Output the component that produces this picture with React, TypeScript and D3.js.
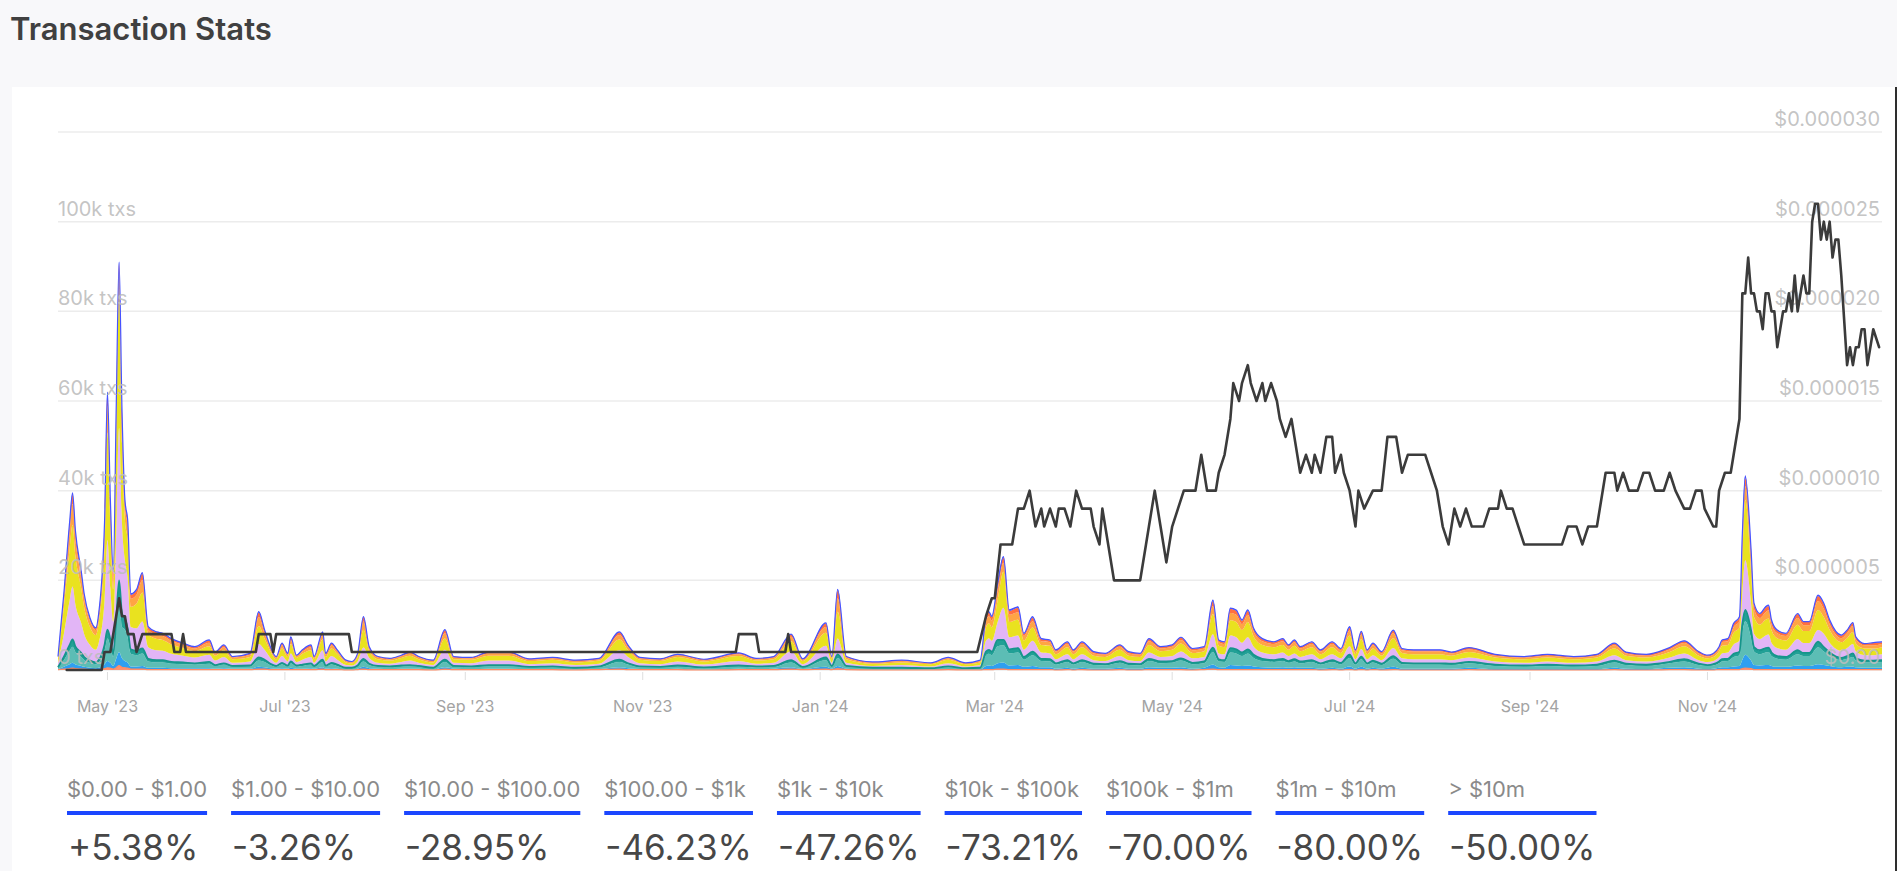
import React, { useEffect, useRef } from "react";
import * as d3 from "d3";

const WIDTH = 1897;
const HEIGHT = 871;
const FONT = "Inter, 'Noto Sans', 'DejaVu Sans', sans-serif";

// Sample dates of the stacked transaction areas
const dates: string[] = [
  "2023-04-14","2023-04-16","2023-04-18","2023-04-19","2023-04-20","2023-04-22","2023-04-23","2023-04-25","2023-04-27","2023-04-28",
  "2023-04-30","2023-05-01","2023-05-02","2023-05-03","2023-05-04","2023-05-05","2023-05-06","2023-05-07","2023-05-08","2023-05-09",
  "2023-05-11","2023-05-13","2023-05-15","2023-05-18","2023-05-20","2023-05-23","2023-05-27","2023-05-31","2023-06-05","2023-06-07",
  "2023-06-10","2023-06-13","2023-06-19","2023-06-22","2023-06-24","2023-06-26","2023-06-28","2023-06-30","2023-07-02","2023-07-03",
  "2023-07-05","2023-07-07","2023-07-10","2023-07-11","2023-07-14","2023-07-15","2023-07-17","2023-07-19","2023-07-22","2023-07-24",
  "2023-07-26","2023-07-28","2023-07-30","2023-08-02","2023-08-06","2023-08-10","2023-08-13","2023-08-16","2023-08-21","2023-08-25",
  "2023-08-28","2023-09-03","2023-09-09","2023-09-16","2023-09-23","2023-10-01","2023-10-09","2023-10-17","2023-10-24","2023-10-27",
  "2023-10-31","2023-11-07","2023-11-13","2023-11-22","2023-12-04","2023-12-10","2023-12-16","2023-12-22","2023-12-26","2024-01-03",
  "2024-01-05","2024-01-07","2024-01-10","2024-01-19","2024-01-29","2024-02-08","2024-02-14","2024-02-20","2024-02-25","2024-02-27",
  "2024-02-28","2024-02-29","2024-03-02","2024-03-04","2024-03-06","2024-03-09","2024-03-11","2024-03-14","2024-03-17","2024-03-20",
  "2024-03-22","2024-03-26","2024-03-28","2024-03-31","2024-04-04","2024-04-08","2024-04-13","2024-04-16","2024-04-20","2024-04-23",
  "2024-04-27","2024-05-01","2024-05-04","2024-05-08","2024-05-12","2024-05-15","2024-05-17","2024-05-19","2024-05-21","2024-05-23",
  "2024-05-25","2024-05-27","2024-05-29","2024-06-01","2024-06-05","2024-06-08","2024-06-10","2024-06-12","2024-06-14","2024-06-18",
  "2024-06-21","2024-06-25","2024-06-28","2024-07-01","2024-07-03","2024-07-05","2024-07-07","2024-07-09","2024-07-12","2024-07-16",
  "2024-07-19","2024-07-23","2024-07-28","2024-08-01","2024-08-05","2024-08-11","2024-08-20","2024-08-30","2024-09-07","2024-09-16",
  "2024-09-24","2024-09-30","2024-10-04","2024-10-11","2024-10-19","2024-10-24","2024-10-29","2024-11-01","2024-11-03","2024-11-05",
  "2024-11-06","2024-11-08","2024-11-10","2024-11-12","2024-11-13","2024-11-14","2024-11-16","2024-11-17","2024-11-19","2024-11-21",
  "2024-11-22","2024-11-23","2024-11-25","2024-11-28","2024-12-02","2024-12-04","2024-12-06","2024-12-09","2024-12-11","2024-12-13",
  "2024-12-17","2024-12-19","2024-12-21","2024-12-22","2024-12-25","2024-12-28","2024-12-31"
];

// Daily transactions per value bucket, in hundreds of txs
const bucket0 = [
  1,2,3,4,3,2,2,1,1,1, 3,5,4,2,5,10,6,5,4,2, 2,2,1,1,1,1,1,1,1,1, 1,1,1,2,2,1,1,1,1,1,
  1,1,1,1,2,1,1,1,0,0, 1,2,1,1,1,1,1,1,0,2, 1,1,1,1,1,1,0,1,2,1, 1,1,1,0,1,1,1,2,1,2,
  1,3,1,0,0,0,1,0,0,1, 1,1,2,2,1,1,1,1,1,1, 0,1,0,1,0,0,1,0,0,1, 1,1,1,0,1,2,1,1,1,1,
  1,1,1,1,1,1,1,1,1,1, 0,1,0,1,0,1,0,1,0,1, 0,0,0,0,0,1,0,0,0,0, 0,1,0,0,1,1,0,0,0,1,
  1,1,1,1,3,4,3,1,1,1, 1,1,1,1,1,1,1,1,1,1, 1,1,1,1,1,1,1
];
const bucket1 = [
  1,5,10,12,9,7,5,4,3,4, 10,15,12,7,20,30,20,15,12,6, 6,7,4,4,4,3,3,3,3,2, 3,2,2,5,4,3,2,3,2,4,
  2,2,3,2,4,2,3,2,1,1, 2,5,3,2,1,2,2,2,1,4, 2,1,2,2,1,1,1,1,4,3, 1,1,2,1,2,1,2,4,1,5,
  2,6,2,1,1,1,1,1,1,8, 9,8,13,15,9,10,6,8,5,5, 3,4,3,4,3,3,4,3,3,5, 4,4,5,3,4,10,5,4,10,9,
  8,9,7,5,4,5,4,5,4,4, 3,4,3,7,3,6,3,4,3,6, 3,3,3,3,3,4,2,2,2,2, 2,4,3,2,4,5,3,2,3,4,
  5,5,7,8,20,30,18,10,9,10, 10,8,6,6,9,8,8,12,10,8, 5,6,7,5,4,4,4
];
const bucket2 = [
  3,15,30,36,28,20,15,11,9,12, 30,50,36,20,60,120,70,70,55,28, 25,28,14,12,12,10,9,8,10,6, 8,4,5,14,12,7,4,8,5,10,
  5,6,8,4,12,5,8,6,3,3, 5,12,7,4,4,5,6,4,3,12, 4,4,6,6,4,4,3,4,12,8, 4,4,5,3,5,4,4,11,4,15,
  4,18,4,3,3,2,4,2,3,24, 26,24,38,38,27,28,16,24,14,13, 9,13,9,13,8,7,11,8,7,14, 10,11,15,10,10,28,13,13,28,27,
  22,27,19,14,13,14,11,13,10,13, 9,13,10,19,9,17,9,12,8,18, 10,9,9,9,8,10,7,6,7,6, 7,12,8,7,10,13,8,7,7,10,
  13,14,21,24,60,75,50,30,25,28, 29,22,18,16,25,22,22,38,30,22, 16,18,21,15,12,12,13
];
const bucket3 = [
  1,7,13,16,12,9,7,5,4,5, 13,20,16,9,25,40,30,25,20,10, 10,11,6,5,5,4,4,3,4,2, 3,2,2,7,5,3,2,4,2,4,
  2,3,3,2,5,2,4,3,1,1, 2,6,3,2,2,2,2,2,1,5, 2,2,2,2,1,2,1,2,5,3, 2,1,2,2,2,2,2,5,1,6,
  2,8,2,1,1,1,2,1,1,8, 9,8,14,12,9,10,6,8,5,5, 3,4,3,4,3,3,4,3,3,5, 4,4,5,3,4,10,5,4,10,9,
  8,9,7,5,4,5,4,5,4,4, 3,4,3,7,3,6,3,4,3,6, 3,3,3,3,3,3,3,2,3,2, 3,4,3,3,3,5,3,2,3,4,
  5,5,7,8,20,25,17,10,9,10, 10,8,6,6,9,7,7,12,10,8, 5,6,8,5,4,4,4
];
const bucket4 = [
  9,51,99,118,93,66,51,35,28,38, 99,200,114,70,190,340,200,130,110,50, 50,60,26,22,21,18,15,13,16,10, 14,7,9,30,22,13,7,15,9,18,
  8,11,14,7,21,9,15,11,6,5, 9,25,13,7,6,8,10,7,6,22, 7,7,10,10,6,7,6,6,21,14, 7,6,9,6,10,6,7,20,6,26,
  7,35,7,4,6,4,7,4,6,24, 26,24,40,72,27,28,16,24,14,13, 9,13,9,13,8,7,11,8,7,14, 10,11,15,10,10,30,13,13,28,27,
  22,27,18,14,13,14,11,13,10,13, 9,13,10,19,9,17,9,12,8,18, 10,9,9,9,8,10,7,6,7,6, 7,12,8,7,10,13,8,7,7,10,
  13,14,21,24,70,111,60,30,25,28, 29,22,18,16,25,22,22,26,30,22, 16,18,21,15,12,12,13
];
const bucket5 = [
  10,60,115,138,109,77,60,40,33,44, 115,240,133,72,200,310,180,90,85,45, 55,65,28,25,24,21,17,14,19,11, 15,8,10,40,25,15,8,17,10,21,
  9,13,15,8,24,10,17,13,6,5, 10,40,15,8,7,9,11,8,6,25, 8,8,11,11,7,8,6,7,24,15, 8,7,10,7,11,7,8,22,7,29,
  8,60,8,5,6,5,8,5,6,30, 33,30,48,80,34,35,21,30,17,17, 11,16,11,16,10,9,14,10,9,17, 13,14,18,12,13,45,17,16,34,34,
  28,34,23,17,16,17,14,17,13,16, 11,16,12,24,11,22,11,15,10,22, 12,11,11,11,10,12,9,8,9,8, 9,15,10,9,12,16,10,8,9,13,
  17,17,26,30,80,135,70,37,32,35, 36,28,22,21,32,27,27,45,37,28, 19,22,27,18,15,15,16
];
const bucket6 = [
  3,20,40,47,37,26,20,14,11,15, 40,60,45,25,55,35,45,30,30,18, 20,28,11,10,9,8,7,6,8,5, 7,4,5,20,12,6,4,7,5,9,
  4,5,7,4,10,5,7,5,3,2, 5,18,6,4,3,4,5,4,3,12, 4,3,5,5,3,3,3,3,10,7, 3,3,4,3,4,3,4,10,3,13,
  4,30,4,2,3,2,3,2,3,14, 16,15,23,20,16,17,10,14,8,8, 6,7,6,7,5,5,7,5,5,8, 6,7,8,6,6,18,8,7,16,16,
  13,16,11,8,7,8,7,8,6,7, 6,7,6,11,6,10,6,7,5,11, 6,6,6,6,5,6,4,4,4,4, 4,7,5,4,6,7,5,4,5,6,
  8,8,13,14,32,30,30,18,15,17, 18,13,11,10,15,13,13,20,18,13, 9,11,13,9,7,7,7
];
const bucket7 = [
  2,8,17,20,16,11,8,5,4,7, 17,25,17,13,22,20,25,12,12,9, 10,14,6,5,5,4,3,3,5,2, 4,2,3,10,7,4,2,4,3,6,
  2,3,4,2,6,3,4,3,2,2, 3,10,4,2,2,2,3,2,2,7, 2,2,3,3,2,2,2,2,6,4, 2,2,2,2,3,2,2,5,2,8,
  2,18,2,2,2,1,2,1,2,8, 9,8,13,12,9,10,5,8,5,4, 3,4,3,4,3,3,4,3,3,5, 4,4,5,3,4,11,4,4,9,9,
  8,9,6,5,4,5,4,4,4,4, 3,4,3,6,3,6,3,4,3,6, 3,3,3,3,3,4,3,2,3,2, 3,4,3,3,4,4,3,3,3,4,
  4,5,7,8,17,18,17,11,9,10, 10,8,6,5,9,7,7,11,11,8, 6,6,7,5,4,5,4
];
const bucket8 = [
  0,2,3,4,3,2,2,1,1,1, 3,5,3,2,3,5,4,3,2,2, 2,2,1,1,1,1,1,1,1,1, 1,0,0,2,1,0,0,1,0,1,
  0,1,1,0,1,0,1,1,0,0, 0,1,0,0,0,0,0,0,0,1, 0,0,0,0,0,0,0,0,1,0, 0,0,0,0,0,0,0,1,0,1,
  0,2,0,0,0,0,0,0,0,2, 1,2,2,2,2,2,1,2,1,1, 1,1,1,1,1,0,0,1,0,1, 0,0,1,1,0,2,1,1,2,2,
  2,2,1,1,1,1,0,1,0,1, 1,1,1,3,1,1,1,1,1,1, 1,1,1,1,0,0,0,0,0,0, 0,1,0,0,0,1,1,0,0,0,
  1,1,1,2,3,5,3,2,1,2, 2,2,1,1,1,1,1,2,2,2, 1,1,1,1,0,1,1
];
const bucketSeries = [bucket0, bucket1, bucket2, bucket3, bucket4, bucket5, bucket6, bucket7, bucket8];

const bucketLabels = [
  "$0.00 - $1.00", "$1.00 - $10.00", "$10.00 - $100.00", "$100.00 - $1k", "$1k - $10k",
  "$10k - $100k", "$100k - $1m", "$1m - $10m", "> $10m"
];
const bucketChanges = ["+5.38%", "-3.26%", "-28.95%", "-46.23%", "-47.26%", "-73.21%", "-70.00%", "-80.00%", "-50.00%"];
const bucketColors = ["#ff9270", "#2f9ff0", "#5cbdb5", "#22a096", "#e2b5f6", "#e9e21f", "#ffa444", "#ff7040", "#3a4cff"];
const bucketEdgeColors = ["#ff8a63", null, null, "#16958b", null, null, null, null, "#4652ff"];

// Token price, in millionths of a dollar
const priceDates: string[] = [
  "2023-04-17","2023-04-29","2023-04-30","2023-05-02","2023-05-05","2023-05-06","2023-05-07","2023-05-08","2023-05-10","2023-05-11",
  "2023-05-13","2023-05-23","2023-05-24","2023-05-26","2023-05-27","2023-05-28","2023-06-21","2023-06-22","2023-06-26","2023-06-27",
  "2023-06-28","2023-07-23","2023-07-24","2023-12-03","2023-12-04","2023-12-10","2023-12-11","2023-12-20","2023-12-21","2023-12-22",
  "2024-02-24","2024-02-27","2024-02-29","2024-03-01","2024-03-03","2024-03-07","2024-03-09","2024-03-11","2024-03-13","2024-03-15",
  "2024-03-17","2024-03-18","2024-03-20","2024-03-22","2024-03-23","2024-03-25","2024-03-27","2024-03-29","2024-03-31","2024-04-03",
  "2024-04-04","2024-04-06","2024-04-07","2024-04-09","2024-04-11","2024-04-20","2024-04-22","2024-04-23","2024-04-25","2024-04-27",
  "2024-04-29","2024-05-01","2024-05-03","2024-05-05","2024-05-07","2024-05-09","2024-05-11","2024-05-13","2024-05-16","2024-05-17",
  "2024-05-19","2024-05-21","2024-05-22","2024-05-24","2024-05-25","2024-05-27","2024-05-28","2024-05-30","2024-06-01","2024-06-02",
  "2024-06-04","2024-06-06","2024-06-07","2024-06-09","2024-06-11","2024-06-12","2024-06-14","2024-06-16","2024-06-18","2024-06-19",
  "2024-06-21","2024-06-23","2024-06-25","2024-06-26","2024-06-28","2024-06-29","2024-07-01","2024-07-03","2024-07-04","2024-07-06",
  "2024-07-09","2024-07-12","2024-07-14","2024-07-17","2024-07-19","2024-07-21","2024-07-27","2024-07-29","2024-07-31","2024-08-02",
  "2024-08-04","2024-08-06","2024-08-08","2024-08-10","2024-08-12","2024-08-16","2024-08-18","2024-08-21","2024-08-22","2024-08-24",
  "2024-08-26","2024-08-28","2024-08-30","2024-09-12","2024-09-14","2024-09-17","2024-09-19","2024-09-21","2024-09-24","2024-09-26",
  "2024-09-27","2024-09-30","2024-10-01","2024-10-03","2024-10-05","2024-10-08","2024-10-10","2024-10-12","2024-10-14","2024-10-17",
  "2024-10-19","2024-10-21","2024-10-24","2024-10-26","2024-10-28","2024-10-30","2024-10-31","2024-11-03","2024-11-04","2024-11-05",
  "2024-11-07","2024-11-09","2024-11-10","2024-11-12","2024-11-13","2024-11-14","2024-11-15","2024-11-16","2024-11-17","2024-11-18",
  "2024-11-19","2024-11-20","2024-11-21","2024-11-22","2024-11-23","2024-11-24","2024-11-25","2024-11-27","2024-11-28","2024-11-29",
  "2024-11-30","2024-12-01","2024-12-02","2024-12-04","2024-12-05","2024-12-06","2024-12-07","2024-12-08","2024-12-09","2024-12-10",
  "2024-12-11","2024-12-12","2024-12-13","2024-12-14","2024-12-15","2024-12-16","2024-12-17","2024-12-19","2024-12-20","2024-12-21",
  "2024-12-22","2024-12-23","2024-12-24","2024-12-25","2024-12-26","2024-12-28","2024-12-30"
];
const priceMicroUsd = [
  0,0,1,1,4,3,3,2,2,1,
  2,2,1,1,2,1,1,2,2,1,
  2,2,1,1,2,2,1,1,2,1,
  1,3,4,4,7,7,9,9,10,8,
  9,8,9,8,9,9,8,10,9,9,
  8,7,9,7,5,5,7,8,10,8,
  6,8,9,10,10,10,12,10,10,11,
  12,14,16,15,16,17,16,15,16,15,
  16,15,14,13,14,13,11,12,11,12,
  11,13,13,11,12,11,10,8,10,9,
  10,10,13,13,11,12,12,11,10,8,
  7,9,8,9,8,8,9,9,10,9,
  9,8,7,7,8,8,7,8,8,10,
  11,11,10,11,10,10,11,11,10,10,
  11,10,9,9,10,10,9,8,8,10,
  11,11,12,14,21,21,23,21,21,20,
  20,19,21,21,20,20,18,20,20,21,
  20,22,20,22,21,21,25,26,26,24,
  25,24,25,23,24,24,22,17,18,17,
  18,18,19,19,17,19,18
];

const txGridValues = [0, 20000, 40000, 60000, 80000, 100000, 120000];
const txTickValues = [0, 20000, 40000, 60000, 80000, 100000];
const txTickLabels = ["0 txs", "20k txs", "40k txs", "60k txs", "80k txs", "100k txs"];
const priceTickValues = [0, 0.000005, 0.00001, 0.000015, 0.00002, 0.000025, 0.00003];
const priceTickLabels = ["$0.00", "$0.000005", "$0.000010", "$0.000015", "$0.000020", "$0.000025", "$0.000030"];
const monthTicks = [
  "2023-05-01", "2023-07-01", "2023-09-01", "2023-11-01", "2024-01-01",
  "2024-03-01", "2024-05-01", "2024-07-01", "2024-09-01", "2024-11-01"
];
const domainStart = "2023-04-14";
const domainEnd = "2024-12-31";

export default function App() {
  const ref = useRef<SVGSVGElement | null>(null);

  useEffect(() => {
    const svg = d3.select(ref.current);
    svg.selectAll("*").remove();
    const parse = d3.timeParse("%Y-%m-%d");

    const left = 58, right = 1882, top = 132, bottom = 670;
    const x = d3.scaleTime().domain([parse(domainStart)!, parse(domainEnd)!]).range([left, right]);
    const yTx = d3.scaleLinear().domain([0, 120000]).range([bottom, top]);
    const yPrice = d3.scaleLinear().domain([0, 0.00003]).range([bottom, top]);

    // page + card
    svg.append("rect").attr("width", WIDTH).attr("height", HEIGHT).attr("fill", "#f8f8fa");
    svg.append("rect").attr("x", 12).attr("y", 87).attr("width", 1883).attr("height", HEIGHT - 87).attr("fill", "#ffffff");
    svg.append("rect").attr("x", 1895).attr("y", 87).attr("width", 2).attr("height", HEIGHT - 87).attr("fill", "#2e2e2e");

    svg.append("text").attr("x", 10).attr("y", 40)
      .attr("font-family", FONT).attr("font-size", 31).attr("font-weight", 600)
      .attr("fill", "#404040").text("Transaction Stats");

    // grid
    svg.append("g").selectAll("line").data(txGridValues).join("line")
      .attr("x1", left).attr("x2", right)
      .attr("y1", (d) => yTx(d)).attr("y2", (d) => yTx(d))
      .attr("stroke", "#ececec").attr("stroke-width", 1.5);

    // stacked areas
    const keys = bucketLabels.map((_, i) => "b" + i);
    const rows = dates.map((d, i) => {
      const r: any = { date: parse(d) };
      keys.forEach((k, j) => { r[k] = bucketSeries[j][i] * 100; });
      return r;
    });
    const stacked = d3.stack<any>().keys(keys)(rows);
    const area = d3.area<any>()
      .x((d) => x(d.data.date))
      .y0((d) => yTx(d[0]))
      .y1((d) => yTx(d[1]))
      .curve(d3.curveMonotoneX);
    const topLine = d3.line<any>()
      .x((d) => x(d.data.date))
      .y((d) => yTx(d[1]))
      .curve(d3.curveMonotoneX);
    const gArea = svg.append("g");
    gArea.selectAll("path.a").data(stacked).join("path")
      .attr("class", "a")
      .attr("d", (d) => area(d as any))
      .attr("fill", (_, i) => bucketColors[i]);
    stacked.forEach((layer, i) => {
      const c = bucketEdgeColors[i];
      if (!c) return;
      gArea.append("path").attr("d", topLine(layer as any))
        .attr("fill", "none").attr("stroke", c)
        .attr("stroke-width", i === 3 ? 1.8 : 1.2);
    });

    // left labels
    svg.append("g").selectAll("text").data(txTickValues).join("text")
      .attr("x", left).attr("y", (d) => yTx(d) - 6)
      .attr("font-family", FONT).attr("font-size", 20)
      .attr("fill", "#bdbdbd").attr("fill-opacity", 0.9)
      .text((_, i) => txTickLabels[i]);

    // right labels
    svg.append("g").selectAll("text").data(priceTickValues).join("text")
      .attr("x", right - 2).attr("y", (d) => yPrice(d) - 6)
      .attr("text-anchor", "end")
      .attr("font-family", FONT).attr("font-size", 20)
      .attr("fill", "#bdbdbd").attr("fill-opacity", 0.9)
      .text((_, i) => priceTickLabels[i]);

    // price line
    const pricePts = priceDates.map((d, i) => ({ date: parse(d)!, v: priceMicroUsd[i] * 1e-6 }));
    const priceLine = d3.line<{ date: Date; v: number }>()
      .x((d) => x(d.date)).y((d) => yPrice(d.v));
    svg.append("path").attr("d", priceLine(pricePts)!)
      .attr("fill", "none").attr("stroke", "#3b3b3b").attr("stroke-width", 2.6)
      .attr("stroke-linejoin", "round").attr("stroke-linecap", "round");

    // x axis
    const fmt = d3.timeFormat("%b '%y");
    const gx = svg.append("g");
    monthTicks.forEach((m) => {
      const dt = parse(m)!;
      const px = x(dt);
      gx.append("line").attr("x1", px).attr("x2", px).attr("y1", 672).attr("y2", 680)
        .attr("stroke", "#dedede").attr("stroke-width", 1);
      gx.append("text").attr("x", px).attr("y", 712).attr("text-anchor", "middle")
        .attr("font-family", FONT).attr("font-size", 16).attr("fill", "#a3a3a3")
        .text(fmt(dt));
    });

    // legend / bucket changes
    let cx = 67;
    bucketLabels.forEach((lab, i) => {
      const g = svg.append("g");
      const t1 = g.append("text").attr("x", cx).attr("y", 797)
        .attr("font-family", FONT).attr("font-size", 22).attr("fill", "#8a8a8a").text(lab);
      const t2 = g.append("text").attr("x", cx + 1).attr("y", 860)
        .attr("font-family", FONT).attr("font-size", 35).attr("fill", "#474747").text(bucketChanges[i]);
      const w1 = (t1.node() as SVGTextElement).getComputedTextLength();
      const w2 = (t2.node() as SVGTextElement).getComputedTextLength() + 2;
      const w = Math.max(w1, w2);
      g.append("rect").attr("x", cx).attr("y", 811).attr("width", w).attr("height", 4).attr("fill", "#1b46ff");
      cx += w + 24;
    });
  }, []);

  return (
    <div style={{ position: "absolute", left: 0, top: 0 }}>
      <svg ref={ref} width={WIDTH} height={HEIGHT} style={{ display: "block" }} />
    </div>
  );
}
